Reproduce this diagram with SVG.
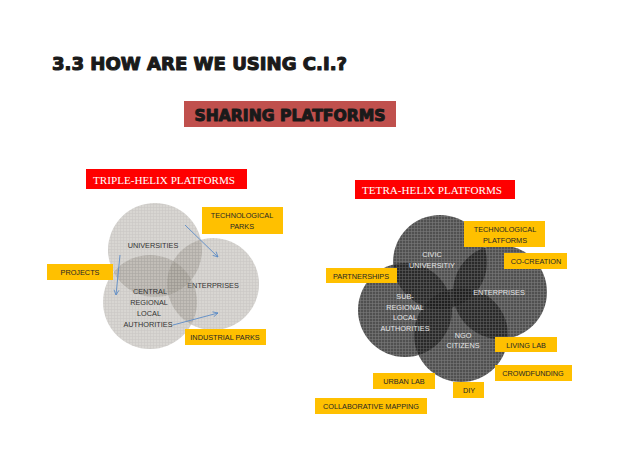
<svg xmlns="http://www.w3.org/2000/svg" width="638" height="451" viewBox="0 0 638 451">
<style>
.lbl{font-family:"Liberation Sans",Arial,sans-serif;font-size:7.3px;fill:#262626;text-anchor:middle}
.ylw{fill:#ffc000}
.tin{font-family:"Liberation Sans",Arial,sans-serif;font-size:7.3px;fill:#333;text-anchor:middle}
.tout{font-family:"Liberation Sans",Arial,sans-serif;font-size:7.3px;fill:#e6e6e6;text-anchor:middle}
.plat{font-family:"Liberation Serif","Times New Roman",serif;font-size:11px;fill:#fff;text-anchor:middle}
.arr{stroke:#5b8bc6;stroke-width:0.9;fill:none;marker-end:url(#ah)}
.heavy{font-family:"DejaVu Sans",sans-serif;font-weight:bold;fill:#1a1a1a;stroke:#1a1a1a;stroke-linejoin:round}
</style>
<defs>
<pattern id="lg" width="3" height="3" patternUnits="userSpaceOnUse">
<rect width="3" height="3" fill="#a39e95"/>
<path d="M0 0.5H3M0.5 0V3" stroke="#7f7b73" stroke-width="0.6"/>
</pattern>
<pattern id="dg" width="3" height="3" patternUnits="userSpaceOnUse">
<rect width="3" height="3" fill="#1e1e1e"/>
<path d="M0 0.5H3M0.5 0V3" stroke="#555" stroke-width="0.6"/>
</pattern>
<marker id="ah" viewBox="0 0 10 10" refX="9" refY="5" markerWidth="7" markerHeight="7" orient="auto">
<path d="M1 1L9 5L1 9" fill="none" stroke="#5b8bc6" stroke-width="1.3"/>
</marker>
</defs>
<rect width="638" height="451" fill="#fff"/>
<text class="heavy" x="52" y="70" font-size="18" stroke-width="1.1" textLength="295" lengthAdjust="spacingAndGlyphs">3.3 HOW ARE WE USING C.I.?</text>
<g id="sharing">
<rect x="184" y="101" width="212" height="26" fill="#c0504d"/>
<text class="heavy" x="290" y="121" text-anchor="middle" font-size="15" stroke-width="1" textLength="191" lengthAdjust="spacingAndGlyphs">SHARING PLATFORMS</text>
</g>
<g id="triple-title">
<rect x="86" y="169" width="161" height="20" fill="#ff0000"/>
<text class="plat" x="164" y="184" textLength="142" lengthAdjust="spacingAndGlyphs">TRIPLE-HELIX PLATFORMS</text>
</g>
<g id="universities">
<circle cx="155" cy="250" r="47" fill="url(#lg)" opacity="0.42"/>
<text class="tin" x="153" y="248">UNIVERSITIES</text>
</g>
<g id="enterprises-t">
<circle cx="213" cy="284" r="46" fill="url(#lg)" opacity="0.42"/>
<text class="tin" x="213" y="288">ENTERPRISES</text>
</g>
<g id="central">
<circle cx="150" cy="302" r="47" fill="url(#lg)" opacity="0.42"/>
<text class="tin" x="150" y="294">CENTRAL</text>
<text class="tin" x="149" y="305">REGIONAL</text>
<text class="tin" x="149" y="316">LOCAL</text>
<text class="tin" x="148" y="327">AUTHORITIES</text>
</g>
<g id="tech-parks">
<rect class="ylw" x="202" y="207" width="81" height="27"/>
<text class="lbl" x="242" y="217.5">TECHNOLOGICAL</text>
<text class="lbl" x="242" y="229">PARKS</text>
</g>
<g id="projects">
<rect class="ylw" x="47" y="264" width="66" height="16"/>
<text class="lbl" x="80" y="274.5">PROJECTS</text>
</g>
<g id="industrial-parks">
<rect class="ylw" x="185" y="329" width="81" height="16"/>
<text class="lbl" x="225" y="340">INDUSTRIAL PARKS</text>
</g>
<g id="triple-connectors">
<line class="arr" x1="185" y1="225" x2="218" y2="257"/>
<line class="arr" x1="120" y1="255" x2="116" y2="295"/>
<line class="arr" x1="173" y1="325" x2="218" y2="313"/>
</g>
<g id="tetra-title">
<rect x="355" y="180" width="160" height="19" fill="#ff0000"/>
<text class="plat" x="432" y="194" textLength="140" lengthAdjust="spacingAndGlyphs">TETRA-HELIX PLATFORMS</text>
</g>
<g id="civic">
<circle cx="440" cy="262" r="47" fill="url(#dg)" opacity="0.78"/>
</g>
<g id="enterprises-q">
<circle cx="500" cy="292" r="47" fill="url(#dg)" opacity="0.78"/>
</g>
<g id="subregional">
<circle cx="405" cy="310" r="47" fill="url(#dg)" opacity="0.78"/>
</g>
<g id="ngo">
<circle cx="461" cy="335" r="47" fill="url(#dg)" opacity="0.78"/>
</g>
<g id="tetra-texts">
<text class="tout" x="432" y="257">CIVIC</text>
<text class="tout" x="432" y="268">UNIVERSITIY</text>
<text class="tout" x="499" y="295">ENTERPRISES</text>
<text class="tout" x="405" y="299">SUB-</text>
<text class="tout" x="405" y="310">REGIONAL</text>
<text class="tout" x="405" y="320">LOCAL</text>
<text class="tout" x="405" y="331">AUTHORITIES</text>
<text class="tout" x="463" y="338">NGO</text>
<text class="tout" x="463" y="348">CITIZENS</text>
</g>
<g id="tech-platforms">
<rect class="ylw" x="464" y="221" width="81" height="26"/>
<text class="lbl" x="505" y="231.5">TECHNOLOGICAL</text>
<text class="lbl" x="505" y="243">PLATFORMS</text>
</g>
<g id="co-creation">
<rect class="ylw" x="504" y="253" width="63" height="16"/>
<text class="lbl" x="536" y="264">CO-CREATION</text>
</g>
<g id="partnerships">
<rect class="ylw" x="326" y="268" width="71" height="15"/>
<text class="lbl" x="361" y="278.5">PARTNERSHIPS</text>
</g>
<g id="living-lab">
<rect class="ylw" x="495" y="337" width="62" height="15"/>
<text class="lbl" x="526" y="347.5">LIVING LAB</text>
</g>
<g id="crowdfunding">
<rect class="ylw" x="495" y="365" width="77" height="16"/>
<text class="lbl" x="533" y="376">CROWDFUNDING</text>
</g>
<g id="urban-lab">
<rect class="ylw" x="373" y="373" width="62" height="16"/>
<text class="lbl" x="404" y="384">URBAN LAB</text>
</g>
<g id="diy">
<rect class="ylw" x="453" y="382" width="31" height="16"/>
<text class="lbl" x="469" y="393">DIY</text>
</g>
<g id="collab-mapping">
<rect class="ylw" x="315" y="398" width="112" height="16"/>
<text class="lbl" x="371" y="409">COLLABORATIVE MAPPING</text>
</g>
</svg>
